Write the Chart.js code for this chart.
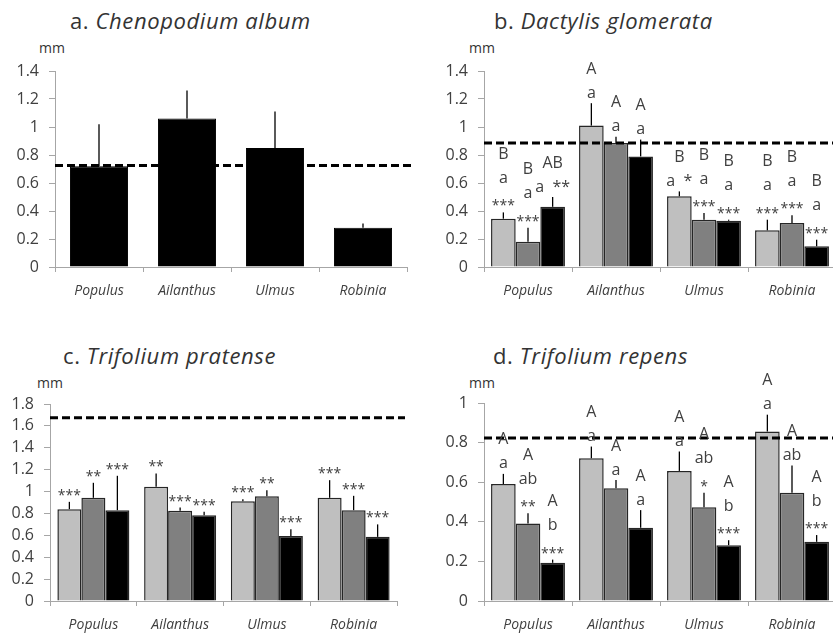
<!DOCTYPE html>
<html>
<head>
<meta charset="utf-8">
<script src="https://cdn.jsdelivr.net/npm/chart.js@4/dist/chart.umd.min.js"></script>
<style>
    html, body { margin: 0; padding: 0; background: #fff; overflow: hidden; width: 833px; height: 634px; }
    .panel { position: absolute; }
    .title { position: absolute; font-family: "Open Sans", sans-serif; font-size: 22px; letter-spacing: 0.6px; color: #333; white-space: nowrap; line-height: 24px; }
    .unit { position: absolute; font-family: "Open Sans", sans-serif; font-size: 14px; color: #333; line-height: 16px; }
</style>
</head>
<body>
<div class="title" style="left:70px; top:8px;">a. <i>Chenopodium album</i></div>
<div class="title" style="left:494px; top:8px;">b. <i>Dactylis glomerata</i></div>
<div class="title" style="left:63px; top:343px;">c. <i>Trifolium pratense</i></div>
<div class="title" style="left:493px; top:343px;">d. <i>Trifolium repens</i></div>
<div class="unit" style="left:39px; top:40px;">mm</div>
<div class="unit" style="left:469px; top:40px;">mm</div>
<div class="unit" style="left:37px; top:375px;">mm</div>
<div class="unit" style="left:469px; top:375px;">mm</div>

<canvas id="chartA" class="panel" width="416" height="310" style="left:0; top:0;"></canvas>
<canvas id="chartB" class="panel" width="425" height="310" style="left:416px; top:0;"></canvas>
<canvas id="chartC" class="panel" width="416" height="314" style="left:0; top:320px;"></canvas>
<canvas id="chartD" class="panel" width="425" height="314" style="left:416px; top:320px;"></canvas>

<script>
// Host trees (x categories)
const trees = ['Populus', 'Ailanthus', 'Ulmus', 'Robinia'];

// a. Chenopodium album (single series) - mean, standard error, control line
const chenoMean = [0.72, 1.06, 0.85, 0.28];
const chenoSE   = [0.30, 0.20, 0.26, 0.03];
const chenoControl = 0.725;

// b. Dactylis glomerata - three series (light, grey, black)
const dactylisMean1 = [0.345, 1.01, 0.505, 0.262];
const dactylisMean2 = [0.18, 0.886, 0.338, 0.314];
const dactylisMean3 = [0.43, 0.79, 0.33, 0.148];
const dactylisSE1 = [0.045, 0.16, 0.035, 0.076];
const dactylisSE2 = [0.10, 0.044, 0.048, 0.056];
const dactylisSE3 = [0.07, 0.12, 0.008, 0.047];
const dactylisControl = 0.886;
const dactylisLabels1 = [['B', 'a', '***'], ['A', 'a'], ['B', 'a  *'], ['B', 'a', '***']];
const dactylisLabels2 = [['B', 'a', '***'], ['A', 'a'], ['B', 'a', '***'], ['B', 'a', '***']];
const dactylisLabels3 = [['AB', 'a  **'], ['A', 'a'], ['B', 'a', '***'], ['B', 'a', '***']];

// c. Trifolium pratense
const pratenseMean1 = [0.839, 1.043, 0.912, 0.943];
const pratenseMean2 = [0.943, 0.824, 0.958, 0.83];
const pratenseMean3 = [0.83, 0.784, 0.595, 0.586];
const pratenseSE1 = [0.067, 0.122, 0.018, 0.161];
const pratenseSE2 = [0.137, 0.030, 0.055, 0.131];
const pratenseSE3 = [0.314, 0.031, 0.061, 0.114];
const pratenseControl = 1.675;
const pratenseLabels1 = [['***'], ['**'], ['***'], ['***']];
const pratenseLabels2 = [['**'], ['***'], ['**'], ['***']];
const pratenseLabels3 = [['***'], ['***'], ['***'], ['***']];

// d. Trifolium repens
const repensMean1 = [0.591, 0.721, 0.657, 0.856];
const repensMean2 = [0.392, 0.569, 0.473, 0.547];
const repensMean3 = [0.193, 0.37, 0.282, 0.299];
const repensSE1 = [0.051, 0.059, 0.098, 0.085];
const repensSE2 = [0.051, 0.042, 0.074, 0.137];
const repensSE3 = [0.016, 0.089, 0.025, 0.034];
const repensControl = 0.823;
const repensLabels1 = [['A', 'a'], ['A', 'a'], ['A', 'a'], ['A', 'a']];
const repensLabels2 = [['A', 'ab', '**'], ['A', 'a'], ['A', 'ab', '*'], ['A', 'ab']];
const repensLabels3 = [['A', 'b', '***'], ['A', 'a'], ['A', 'b', '***'], ['A', 'b', '***']];

const seriesColors = ['#bfbfbf', '#808080', '#000000'];
const axisColor = '#a6a6a6';
const textColor = '#404040';
const fontFamily = '"Open Sans", sans-serif';

// draws control line, upper error bars and letter / star labels
const extrasPlugin = {
    id: 'extras',
    afterDatasetsDraw(chart) {
        const ctx = chart.ctx;
        const y = chart.scales.y;
        const area = chart.chartArea;
        const extra = chart.options.plugins.extras;

        // dashed control line
        const cy = y.getPixelForValue(extra.control);
        ctx.save();
        ctx.strokeStyle = '#000';
        ctx.lineWidth = 3;
        ctx.setLineDash([8, 4]);
        ctx.beginPath();
        ctx.moveTo(area.left, cy);
        ctx.lineTo(area.right + 8, cy);
        ctx.stroke();
        ctx.restore();

        chart.data.datasets.forEach((ds, i) => {
            const meta = chart.getDatasetMeta(i);
            meta.data.forEach((bar, j) => {
                const top = y.getPixelForValue(ds.data[j] + ds.se[j]);
                ctx.save();
                ctx.strokeStyle = '#000';
                ctx.lineWidth = 1.3;
                ctx.beginPath();
                ctx.moveTo(bar.x, bar.y);
                ctx.lineTo(bar.x, top);
                ctx.stroke();
                ctx.restore();

                const lines = ds.marks ? ds.marks[j] : [];
                ctx.save();
                ctx.fillStyle = textColor;
                ctx.textAlign = 'center';
                ctx.textBaseline = 'middle';
                lines.slice().reverse().forEach((txt, k) => {
                    const stars = txt.trim()[0] === '*';
                    ctx.font = (stars ? '14px ' : '16px ') + fontFamily;
                    const ly = top - 10 - k * 24 + (stars ? 4 : 0);
                    ctx.fillText(txt, bar.x, ly);
                });
                ctx.restore();
            });
        });
    }
};

function makePanel(id, datasets, opts) {
    const ctx = document.getElementById(id);
    return new Chart(ctx, {
        type: 'bar',
        data: { labels: trees, datasets: datasets },
        plugins: [extrasPlugin],
        options: {
            responsive: false,
            animation: false,
            layout: { padding: { left: 0, right: opts.right, top: opts.top, bottom: 0 } },
            plugins: {
                legend: { display: false },
                tooltip: { enabled: false },
                extras: { control: opts.control }
            },
            scales: {
                x: {
                    afterFit: s => { s.height = opts.xHeight; },
                    grid: { drawOnChartArea: false, drawTicks: true, tickLength: 5, color: axisColor, offset: true },
                    border: { color: axisColor, width: 1 },
                    ticks: { color: textColor, padding: 11, font: { family: fontFamily, size: 14, style: 'italic' } }
                },
                y: {
                    min: 0,
                    max: opts.max,
                    afterFit: s => { s.width = opts.yWidth; },
                    grid: { drawOnChartArea: false, drawTicks: true, tickLength: 6, color: axisColor },
                    border: { color: axisColor, width: 1 },
                    ticks: {
                        stepSize: 0.2,
                        autoSkip: false,
                        color: textColor,
                        padding: 10,
                        font: { family: fontFamily, size: 16 },
                        callback: v => String(+v.toFixed(1))
                    }
                }
            }
        }
    });
}

function series(means, se, marks, idx, pct) {
    return {
        data: means,
        se: se,
        marks: marks,
        backgroundColor: seriesColors[idx],
        borderColor: '#262626',
        borderWidth: 1.5,
        borderSkipped: 'bottom',
        categoryPercentage: pct,
        barPercentage: 1
    };
}

makePanel('chartA', [{
    data: chenoMean,
    se: chenoSE,
    backgroundColor: '#000',
    borderColor: '#000',
    borderWidth: 1,
    categoryPercentage: 1,
    barPercentage: 0.66
}], { max: 1.4, control: chenoControl, top: 71, right: 9, yWidth: 55, xHeight: 43 });

makePanel('chartB', [
    series(dactylisMean1, dactylisSE1, dactylisLabels1, 0, 0.84),
    series(dactylisMean2, dactylisSE2, dactylisLabels2, 1, 0.84),
    series(dactylisMean3, dactylisSE3, dactylisLabels3, 2, 0.84)
], { max: 1.4, control: dactylisControl, top: 71, right: 5, yWidth: 68, xHeight: 43 });

makePanel('chartC', [
    series(pratenseMean1, pratenseSE1, pratenseLabels1, 0, 0.83),
    series(pratenseMean2, pratenseSE2, pratenseLabels2, 1, 0.83),
    series(pratenseMean3, pratenseSE3, pratenseLabels3, 2, 0.83)
], { max: 1.8, control: pratenseControl, top: 84, right: 19, yWidth: 50, xHeight: 33 });

makePanel('chartD', [
    series(repensMean1, repensSE1, repensLabels1, 0, 0.84),
    series(repensMean2, repensSE2, repensLabels2, 1, 0.84),
    series(repensMean3, repensSE3, repensLabels3, 2, 0.84)
], { max: 1, control: repensControl, top: 83, right: 5, yWidth: 68, xHeight: 33 });
</script>
</body>
</html>
